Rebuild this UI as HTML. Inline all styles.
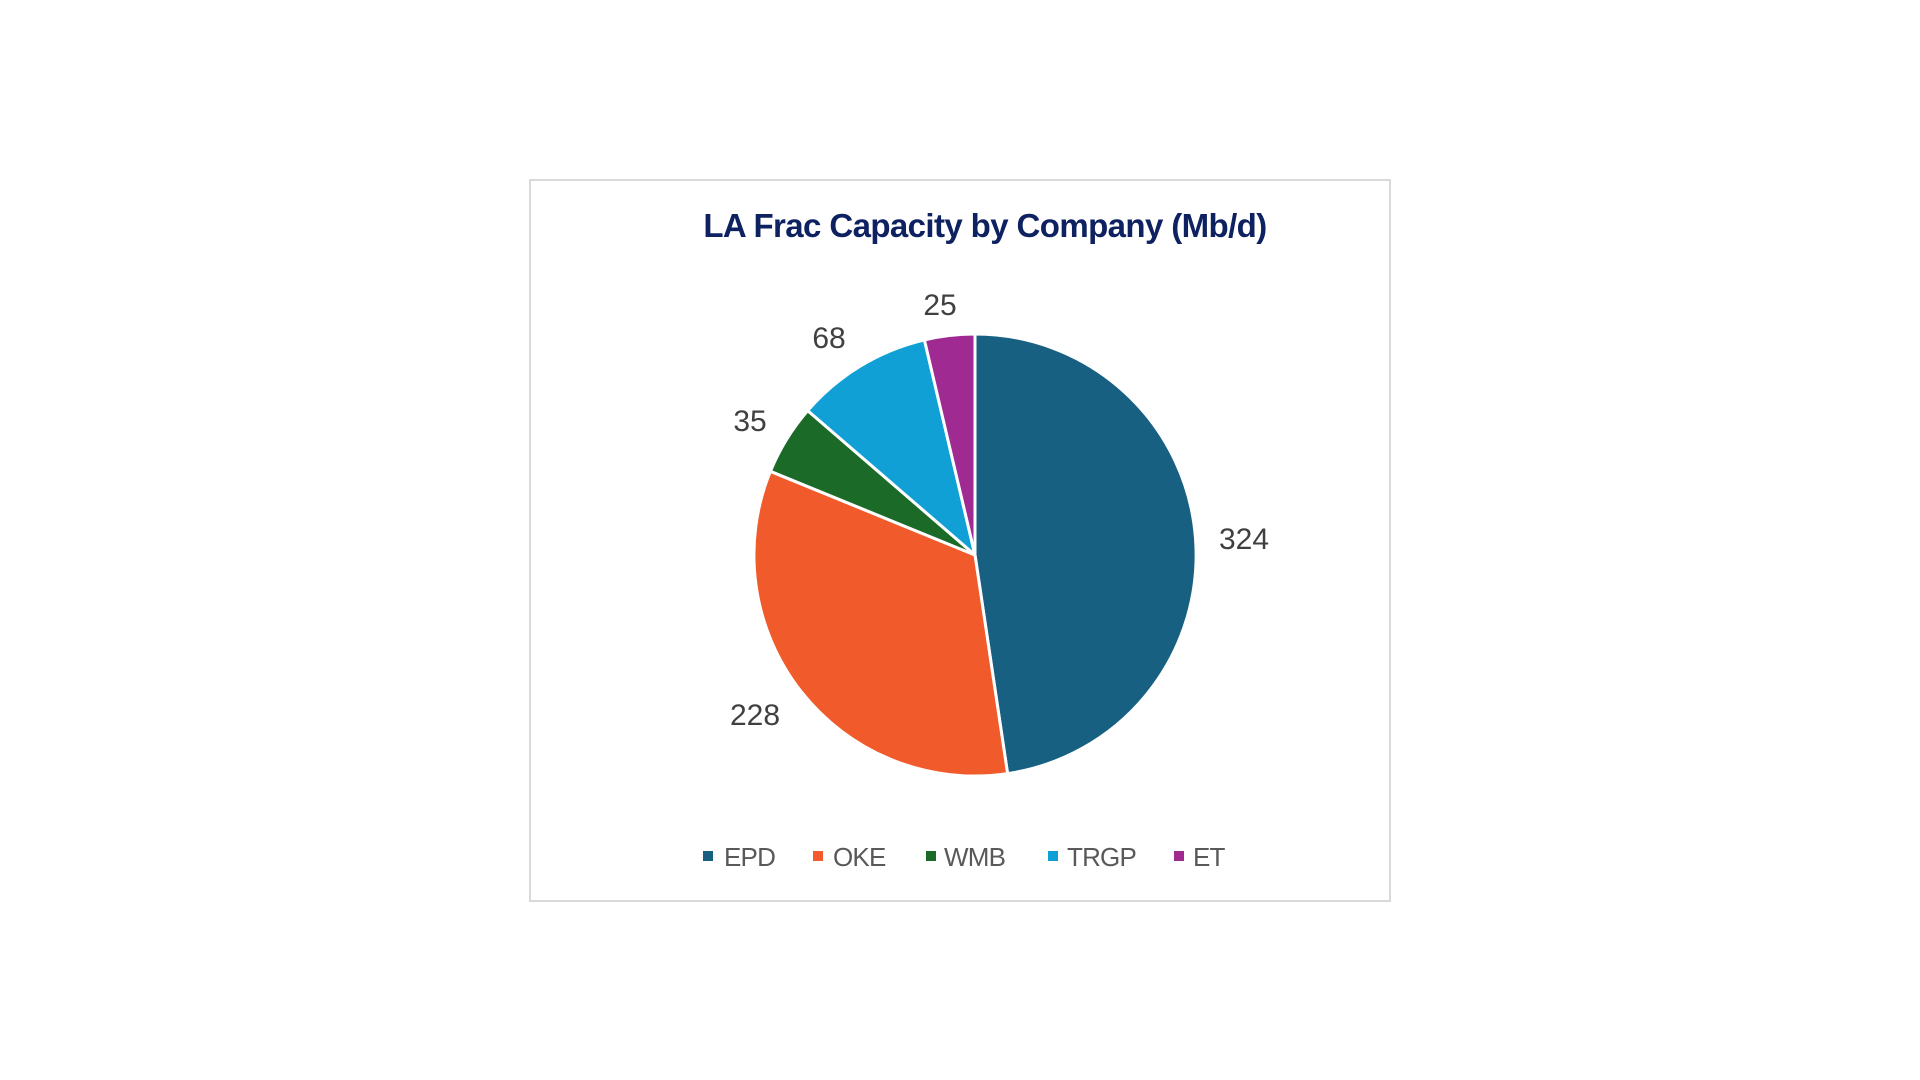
<!DOCTYPE html>
<html><head><meta charset="utf-8"><style>
html,body{margin:0;padding:0;background:#fff;width:1920px;height:1080px;overflow:hidden}
</style></head><body>
<svg width="1920" height="1080" xmlns="http://www.w3.org/2000/svg" style="position:absolute;left:0;top:0">
<rect x="530" y="180" width="860" height="721" fill="#fff" stroke="#d9d9d9" stroke-width="2"/>
<text x="985" y="237" text-anchor="middle" font-family="Liberation Sans, sans-serif" font-size="33" font-weight="bold" fill="#0e2160" letter-spacing="-0.6">LA Frac Capacity by Company (Mb/d)</text>
<g stroke="#fff" stroke-width="3" stroke-linejoin="round">
<path d="M975,555 L975,334 A221,221 0 0 1 1007.6,773.6 Z" fill="#176082"/>
<path d="M975,555 L1007.6,773.6 A221,221 0 0 1 770.4,471.3 Z" fill="#f15a2b"/>
<path d="M975,555 L770.4,471.3 A221,221 0 0 1 807.7,410.6 Z" fill="#1b6a27"/>
<path d="M975,555 L807.7,410.6 A221,221 0 0 1 924.4,339.9 Z" fill="#11a0d6"/>
<path d="M975,555 L924.4,339.9 A221,221 0 0 1 975,334 Z" fill="#9e2a92"/>
</g>
<g font-family="Liberation Sans, sans-serif" font-size="30" fill="#404040" text-anchor="middle">
<text x="1244" y="549">324</text>
<text x="755" y="725">228</text>
<text x="750" y="431">35</text>
<text x="829" y="348">68</text>
<text x="940" y="315">25</text>
</g>
<g font-family="Liberation Sans, sans-serif" font-size="26" fill="#595959" letter-spacing="-0.8">
<rect x="703" y="851" width="10" height="10" fill="#176082"/><text x="724" y="866">EPD</text>
<rect x="813" y="851" width="10" height="10" fill="#f15a2b"/><text x="833" y="866">OKE</text>
<rect x="926" y="851" width="10" height="10" fill="#1b6a27"/><text x="944" y="866">WMB</text>
<rect x="1048" y="851" width="10" height="10" fill="#11a0d6"/><text x="1067" y="866">TRGP</text>
<rect x="1174" y="851" width="10" height="10" fill="#9e2a92"/><text x="1193" y="866">ET</text>
</g>
</svg>
</body></html>
